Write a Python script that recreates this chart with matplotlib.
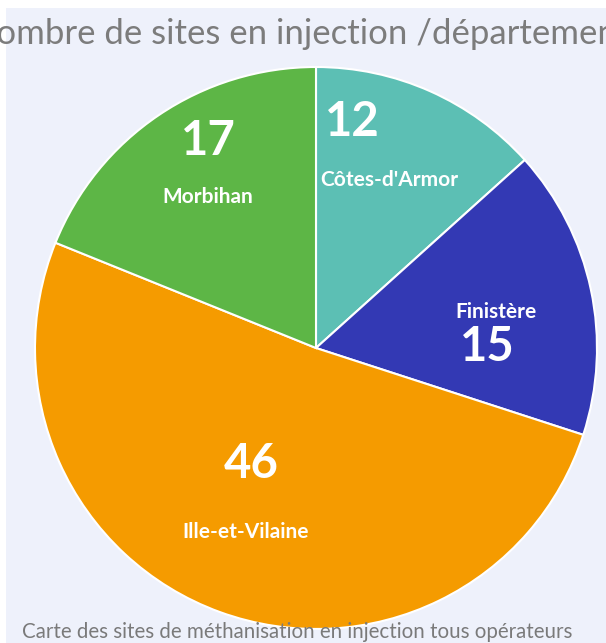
import matplotlib.pyplot as plt
from matplotlib.patches import Rectangle

# data
departements = ["Côtes-d'Armor", "Finistère", "Ille-et-Vilaine", "Morbihan"]
nb_sites = [12, 15, 46, 17]
couleurs = ["#5cbfb4", "#3339b4", "#f59b00", "#5db646"]

W, H = 606, 643
fig = plt.figure(figsize=(W / 100, H / 100), dpi=100)
fig.patch.set_facecolor("white")
ax = fig.add_axes([0, 0, 1, 1])

# fond lavande
ax.add_patch(Rectangle((6, 0), W - 6, H - 8, facecolor="#eef1fb", edgecolor="none", zorder=0))

cx, cy, r = 316, H - 348, 281
ax.pie(nb_sites, colors=couleurs, startangle=90, counterclock=False,
       center=(cx, cy), radius=r, frame=True,
       wedgeprops=dict(edgecolor="white", linewidth=1.5))
ax.set_xlim(0, W)
ax.set_ylim(0, H)
ax.set_aspect("auto")
ax.axis("off")

# étiquettes (positions en pixels, y depuis le haut)
pos_val = [(352, 122), (487, 347), (251, 464), (208, 141)]
pos_nom = [(389, 180), (496, 312), (246, 532), (208, 197)]
for nom, v, (xv, yv), (xn, yn) in zip(departements, nb_sites, pos_val, pos_nom):
    ax.text(xv, H - yv, str(v), color="white", fontsize=34, fontweight="bold",
            family="Lato", ha="center", va="center")
    ax.text(xn, H - yn, nom, color="white", fontsize=15, fontweight="bold",
            family="Lato", ha="center", va="center")

fig.text(300 / W, 1 - 34 / H, "Nombre de sites en injection /département",
         color="#7c7c7c", fontsize=25, family="Lato",
         ha="center", va="center")
fig.text(22 / W, 1 - 632 / H, "Carte des sites de méthanisation en injection tous opérateurs",
         color="#7a7a7a", fontsize=14.8, family="Lato", ha="left", va="center")

fig.savefig("out.png", dpi=100)
